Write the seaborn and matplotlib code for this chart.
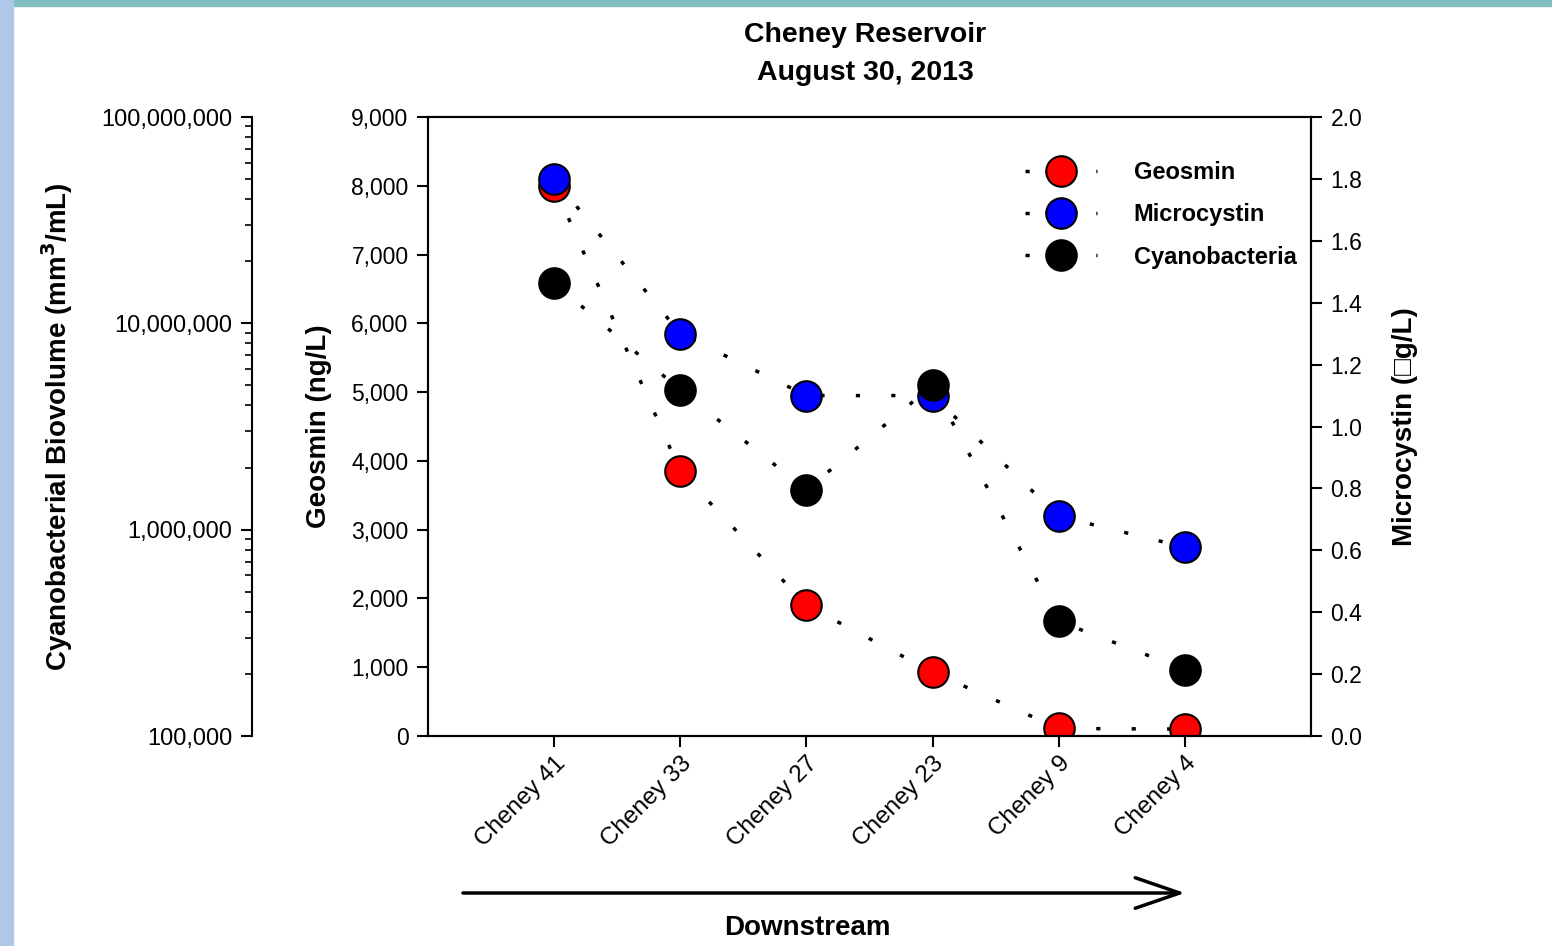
import numpy as np
import matplotlib
matplotlib.use("Agg")
import matplotlib.pyplot as plt
from matplotlib.lines import Line2D
from matplotlib.patches import Rectangle
import seaborn as sns

sites = ["Cheney 41", "Cheney 33", "Cheney 27", "Cheney 23", "Cheney 9", "Cheney 4"]
geosmin = [8000, 3850, 1900, 930, 110, 100]            # ng/L
microcystin = [1.80, 1.30, 1.10, 1.10, 0.71, 0.61]      # ug/L
cyanobacteria = [1.57e7, 4.75e6, 1.56e6, 5.0e6, 3.6e5, 2.1e5]  # mm3/mL

geo_ticks = np.arange(0, 9001, 1000)
mc_ticks = np.arange(0, 2.01, 0.2)
cy_ticks = [1e5, 1e6, 1e7, 1e8]

sns.set_style("white")
plt.rcParams["font.family"] = ["Liberation Sans", "DejaVu Sans"]
for k in ("text.color", "axes.labelcolor", "xtick.color", "ytick.color"):
    plt.rcParams[k] = "black"

fig = plt.figure(figsize=(15.52, 9.46), dpi=100)
fig.patches.append(Rectangle((0, 1 - 6 / 946), 1, 6 / 946, transform=fig.transFigure,
                             color="#80bebe", zorder=0))
fig.patches.append(Rectangle((0, 0), 13 / 1552, 1, transform=fig.transFigure,
                             color="#b0c8e8", zorder=0))

ax = fig.add_axes([428 / 1552, 210 / 946, 883 / 1552, 619 / 946])
ax2 = ax.twinx()
ax3 = ax.twinx()

x = np.arange(len(sites))
ls = (0, (1.2, 9))
common = dict(marker="o", markersize=22, markeredgecolor="black", markeredgewidth=1.5,
              linestyle=ls, linewidth=2.5, legend=False)

sns.lineplot(x=x, y=geosmin, color="red", ax=ax, **common)
sns.lineplot(x=x, y=microcystin, color="blue", ax=ax2, **common)
sns.lineplot(x=x, y=cyanobacteria, color="black", ax=ax3, **common)
for a, c in ((ax, "red"), (ax2, "blue"), (ax3, "black")):
    a.lines[0].set_color("black")
    a.lines[0].set_markerfacecolor(c)
    a.lines[0].set_markeredgecolor("black")

ax.set_xlim(-1, 6)
ax.set_xticks(x)
ax.set_xticklabels(sites, rotation=45, ha="right", rotation_mode="anchor", fontsize=17.5)

# geosmin axis
ax.set_ylim(0, 9000)
ax.set_yticks(geo_ticks)
ax.set_yticklabels([f"{v:,}" for v in geo_ticks], fontsize=16.5)
ax.tick_params(axis="both", direction="out", length=8, width=1.5, left=True, bottom=True)
ax.tick_params(axis="y", pad=6)
ax.set_ylabel("Geosmin (ng/L)", fontsize=20, fontweight="bold")
ax.yaxis.set_label_coords(-0.124, 0.5)
ax.yaxis.label.set_va("center")

# microcystin axis
ax2.set_ylim(0, 2.0)
ax2.set_yticks(mc_ticks)
ax2.set_yticklabels([f"{v:.1f}" for v in mc_ticks], fontsize=16.5)
ax2.tick_params(axis="y", direction="out", length=8, width=1.5, right=True, pad=6)
ax2.set_ylabel("Microcystin (\u25a1g/L)", fontsize=20, fontweight="bold")
ax2.yaxis.set_label_coords(1.1065, 0.5)
ax2.yaxis.label.set_va("center")

# cyanobacteria log axis on far left
ax3.set_yscale("log")
ax3.set_ylim(1e5, 1e8)
ax3.yaxis.set_label_position("left")
ax3.yaxis.set_ticks_position("left")
ax3.spines["left"].set_position(("axes", -176 / 883))
ax3.spines["left"].set_visible(True)
for s in ("right", "top", "bottom"):
    ax3.spines[s].set_visible(False)
ax3.set_yticks(cy_ticks)
ax3.set_yticklabels([f"{int(v):,}" for v in cy_ticks], fontsize=17)
ax3.yaxis.set_minor_locator(matplotlib.ticker.LogLocator(base=10, subs=np.arange(2, 10)))
ax3.yaxis.set_minor_formatter(matplotlib.ticker.NullFormatter())
ax3.tick_params(axis="y", which="major", direction="out", length=8, width=1.5, pad=6)
ax3.tick_params(axis="y", which="minor", direction="out", length=5, width=1.2)
ax3.set_ylabel("Cyanobacterial Biovolume (mm$^\\mathbf{3}$/mL)", fontsize=20,
               fontweight="bold")
ax3.yaxis.set_label_coords(-0.42, 0.5)
ax3.yaxis.label.set_va("center")

for a in (ax, ax2, ax3):
    for s in a.spines.values():
        s.set_linewidth(1.5)
        s.set_color("black")

handles = [
    Line2D([], [], color="black", marker="o", markersize=22, markerfacecolor=c,
           markeredgecolor="black", markeredgewidth=1.5, linestyle=ls, linewidth=2.5)
    for c in ("red", "blue", "black")
]
leg = ax3.legend(handles, ["Geosmin", "Microcystin", "Cyanobacteria"], loc="upper left",
                 bbox_to_anchor=(0.676, 0.929), frameon=False, handlelength=3.05,
                 labelspacing=0.82, borderaxespad=0, handletextpad=1.55, borderpad=0,
                 prop={"weight": "bold", "size": 17})

fig.text(865 / 1552, 1 - 54 / 946, "Cheney Reservoir\nAugust 30, 2013", ha="center", va="center",
         fontsize=20.5, fontweight="bold", linespacing=1.6)

ax.annotate("", xy=(1185 / 1552, 1 - 893 / 946), xytext=(463 / 1552, 1 - 893 / 946),
            xycoords="figure fraction", textcoords="figure fraction",
            arrowprops=dict(arrowstyle="->,head_length=1.6,head_width=0.55", lw=2.5,
                            color="black", mutation_scale=20, shrinkA=0, shrinkB=0))
fig.text(807 / 1552, 1 - 928 / 946, "Downstream", ha="center", va="center",
         fontsize=20, fontweight="bold")

fig.savefig("out.png", dpi=100, facecolor="white")
